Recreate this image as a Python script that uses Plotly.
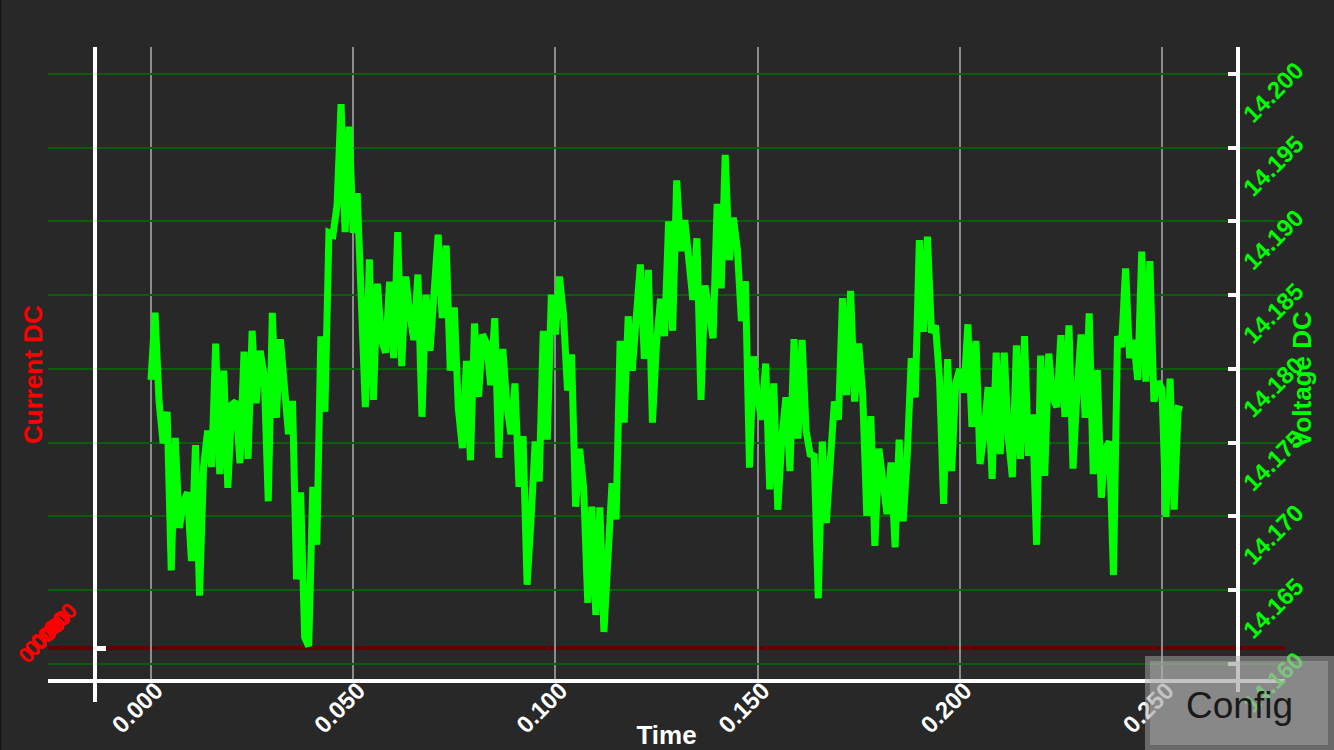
import plotly.graph_objects as go

# ---------------- data ----------------
time_step_s = 0.001
voltage_dc = [
    14.17926, 14.18381, 14.17779, 14.17496, 14.17710, 14.16635, 14.17533, 14.16923, 14.17090, 14.17164,
    14.16697, 14.17484, 14.16463, 14.17336, 14.17582, 14.17336, 14.18172, 14.17287, 14.17988, 14.17194,
    14.17759, 14.17779, 14.17361, 14.18118, 14.17390, 14.18259, 14.17767, 14.18123, 14.17951, 14.17103,
    14.18381, 14.17668, 14.18202, 14.17853, 14.17558, 14.17784, 14.16574, 14.17164, 14.16180, 14.16120,
    14.17201, 14.16808, 14.18222, 14.17710, 14.18923, 14.18910, 14.19107, 14.19796, 14.18928, 14.19643,
    14.18923, 14.19193, 14.18394, 14.17742, 14.18743, 14.17791, 14.18578, 14.18197, 14.18111, 14.18591,
    14.18074, 14.18928, 14.18020, 14.18627, 14.18369, 14.18197, 14.18640, 14.17676, 14.18504, 14.18123,
    14.18517, 14.18910, 14.18345, 14.18837, 14.17988, 14.18418, 14.17730, 14.17464, 14.18054, 14.17381,
    14.18308, 14.17811, 14.18234, 14.18172, 14.17890, 14.18345, 14.17398, 14.18136, 14.17754, 14.17558,
    14.17902, 14.17201, 14.17545, 14.16537, 14.16992, 14.17508, 14.17238, 14.18259, 14.17521, 14.18504,
    14.18234, 14.18627, 14.18369, 14.17853, 14.18099, 14.17066, 14.17459, 14.17189, 14.16414, 14.17066,
    14.16333, 14.17061, 14.16217, 14.16697, 14.17226, 14.16980, 14.18190, 14.17636, 14.18357, 14.17988,
    14.18369, 14.18709, 14.18069, 14.18672, 14.17636, 14.18172, 14.18475, 14.18222, 14.19001, 14.18259,
    14.19279, 14.18800, 14.19009, 14.18664, 14.18468, 14.18886, 14.17791, 14.18566, 14.18394, 14.18209,
    14.19119, 14.18546, 14.19451, 14.18738, 14.19026, 14.18812, 14.18325, 14.18595, 14.17331, 14.18086,
    14.17804, 14.17656, 14.18037, 14.17184, 14.17902, 14.17046, 14.17533, 14.17808, 14.17307, 14.18202,
    14.17528, 14.18197, 14.17582, 14.17422, 14.17410, 14.16444, 14.17508, 14.16955, 14.17385, 14.17779,
    14.17656, 14.18480, 14.17823, 14.18529, 14.17779, 14.18172, 14.17828, 14.17004, 14.17681, 14.16800,
    14.17459, 14.17226, 14.17017, 14.17366, 14.16790, 14.17521, 14.16967, 14.17410, 14.18074, 14.17808,
    14.18873, 14.18251, 14.18898, 14.18246, 14.18295, 14.17926, 14.17085, 14.18067, 14.17307, 14.17902,
    14.18000, 14.17840, 14.18303, 14.17607, 14.18190, 14.17356, 14.17558, 14.17877, 14.17255, 14.18111,
    14.17422, 14.18111, 14.17533, 14.17267, 14.18160, 14.17390, 14.18222, 14.17410, 14.17693, 14.16808,
    14.18091, 14.17275, 14.18104, 14.17804, 14.17742, 14.18229, 14.17676, 14.18295, 14.17324, 14.17853,
    14.18234, 14.17668, 14.18377, 14.17287, 14.17993, 14.17127, 14.17459, 14.17508, 14.16603, 14.18222,
    14.18148, 14.18682, 14.18074, 14.18197, 14.17926, 14.18795, 14.17914, 14.18731, 14.17779, 14.17914,
    14.17865, 14.16997, 14.17934, 14.17046, 14.17730, 14.17722,
]
time_s = [round(i * time_step_s, 3) for i in range(len(voltage_dc))]
current_dc_level = 0.0

time_ticks = [0.0, 0.05, 0.10, 0.15, 0.20, 0.25]
time_tick_labels = ["0.000", "0.050", "0.100", "0.150", "0.200", "0.250"]
voltage_ticks = [14.160, 14.165, 14.170, 14.175, 14.180, 14.185, 14.190, 14.195, 14.200]
voltage_tick_labels = ["14.160", "14.165", "14.170", "14.175", "14.180", "14.185", "14.190", "14.195", "14.200"]
current_tick_label = "0.000"

# ---------------- layout constants ----------------
W, H = 1334, 750
L, R, T, B = 48, 49, 47, 71
PW, PH = W - L - R, H - T - B
BG = "#282828"
FONT = "Liberation Sans"


def px_x(px):
    return (px - L) / PW


def px_y(py):
    return (H - B - py) / PH


fig = go.Figure()

fig.add_trace(go.Scatter(
    x=time_s, y=voltage_dc, yaxis="y2", mode="lines",
    line=dict(color="#00ff00", width=7), name="Voltage DC", showlegend=False,
    hoverinfo="skip",
))

fig.update_layout(
    width=W, height=H,
    margin=dict(l=L, r=R, t=T, b=B, autoexpand=False),
    paper_bgcolor=BG, plot_bgcolor=BG,
    showlegend=False,
    font=dict(family=FONT),
    xaxis=dict(
        range=[-0.02547, 0.28042],
        tickvals=time_ticks, ticktext=time_tick_labels,
        tickangle=-45, tickfont=dict(color="white", size=24, family=FONT, weight="bold"),
        ticklabelstandoff=-16, ticklabelshift=5,
        showgrid=True, gridcolor="#8c8c8c", gridwidth=2,
        zeroline=False, showline=True, linecolor="white", linewidth=4,
        ticks="", automargin=False,
        title=dict(text="<b>Time</b>", font=dict(color="white", size=26, family=FONT), standoff=0),
    ),
    yaxis=dict(
        range=[-0.0031, 0.0601],
        anchor="free", position=px_x(95), side="left",
        showgrid=False, zeroline=False,
        showline=True, linecolor="white", linewidth=4,
        ticks="inside", tickvals=[current_dc_level], ticklen=9, tickwidth=5, tickcolor="white",
        showticklabels=False, automargin=False,
    ),
    yaxis2=dict(
        range=[14.15898, 14.20183],
        overlaying="y", anchor="free", position=px_x(1238), side="right",
        tickvals=voltage_ticks, ticktext=voltage_tick_labels,
        tickangle=-45, tickfont=dict(color="#00ff00", size=24, family=FONT, weight="bold"),
        ticklabelshift=45,
        showgrid=True, gridcolor="#0a5e0a", gridwidth=2, zeroline=False,
        showline=True, linecolor="white", linewidth=4,
        ticks="inside", ticklen=8, tickwidth=4, tickcolor="white",
        automargin=False,
    ),
)

shapes = [
    # current DC level (dark red reference line)
    dict(type="line", xref="paper", yref="y", x0=0, x1=1, y0=current_dc_level, y1=current_dc_level,
         line=dict(color="#640000", width=4), layer="below"),
    # axis line extensions below the time axis
    dict(type="line", xref="paper", yref="paper", x0=px_x(95), x1=px_x(95), y0=0, y1=px_y(702),
         line=dict(color="white", width=4), layer="above"),
    dict(type="line", xref="paper", yref="paper", x0=px_x(1238), x1=px_x(1238), y0=0, y1=px_y(692),
         line=dict(color="white", width=4), layer="above"),
    # thin dark strip on the far left
    dict(type="rect", xref="paper", yref="paper", x0=px_x(0), x1=px_x(1.5), y0=px_y(750), y1=px_y(0),
         fillcolor="#161616", line=dict(width=0), layer="above"),
    # Config button
    dict(type="rect", xref="paper", yref="paper", x0=px_x(1145), x1=px_x(1334), y0=px_y(750), y1=px_y(656),
         fillcolor="rgba(170,170,170,0.5)", line=dict(width=0), layer="above"),
    dict(type="rect", xref="paper", yref="paper", x0=px_x(1150), x1=px_x(1328), y0=px_y(745), y1=px_y(661),
         fillcolor="rgba(175,175,175,0.45)", line=dict(width=0), layer="above"),
]
for s in shapes:
    fig.add_shape(**s)

# overlapping current tick labels
for dx, dy in [(-6, -7), (0, 0), (6, 7)]:
    fig.add_annotation(
        xref="paper", yref="paper", x=px_x(47), y=px_y(633), xshift=dx, yshift=dy,
        xanchor="center", yanchor="middle",
        text="<b>" + current_tick_label + "</b>", textangle=-45, showarrow=False,
        font=dict(color="#ff0000", size=22, family=FONT),
    )
# axis titles
fig.add_annotation(
    xref="paper", yref="paper", x=px_x(33), y=px_y(375), xanchor="center", yanchor="middle",
    text="<b>Current DC</b>", textangle=-90, showarrow=False,
    font=dict(color="#ff0000", size=26, family=FONT),
)
fig.add_annotation(
    xref="paper", yref="paper", x=px_x(1302), y=px_y(380), xanchor="center", yanchor="middle",
    text="<b>Voltage DC</b>", textangle=-90, showarrow=False,
    font=dict(color="#00ff00", size=26, family=FONT),
)
fig.add_annotation(
    xref="paper", yref="paper", x=px_x(1239), y=px_y(705), text="Config", showarrow=False,
    font=dict(color="#1a1a1a", size=37, family=FONT), xanchor="center", yanchor="middle",
)

fig.write_html("out.html", config={"displayModeBar": False},
               post_script="document.body.style.margin='0';")
